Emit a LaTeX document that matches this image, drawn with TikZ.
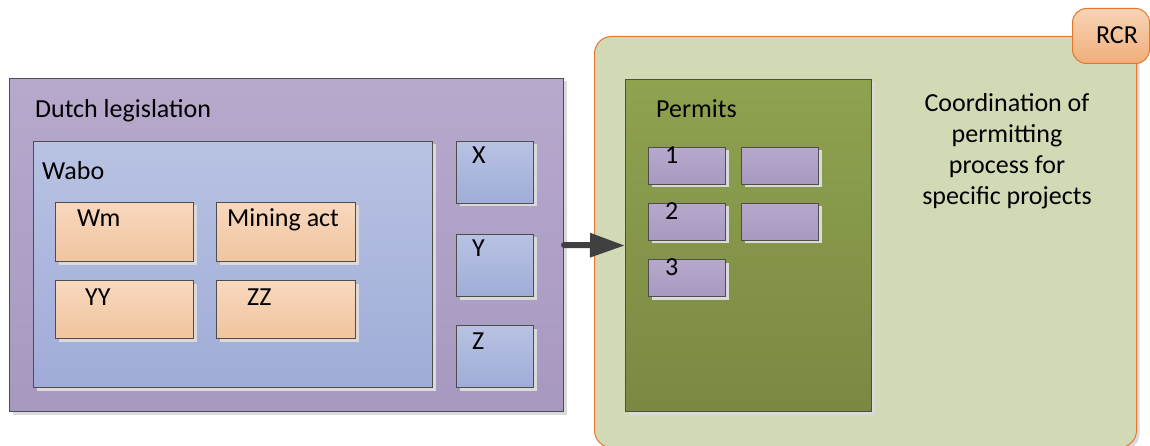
\documentclass[tikz,border=0pt]{standalone}
\usepackage{fontspec}
\setmainfont{Carlito}
\usetikzlibrary{arrows.meta,shadows}
\definecolor{edgegray}{RGB}{77,77,77}
\definecolor{purpletop}{RGB}{183,169,204}
\definecolor{purplebot}{RGB}{167,152,192}
\definecolor{bluetop}{RGB}{184,194,226}
\definecolor{bluebot}{RGB}{160,172,216}
\definecolor{peachtop}{RGB}{248,216,190}
\definecolor{peachbot}{RGB}{240,196,158}
\definecolor{greenfill}{RGB}{210,218,181}
\definecolor{greenedge}{RGB}{228,120,42}
\definecolor{olivetop}{RGB}{143,162,80}
\definecolor{olivebot}{RGB}{122,137,66}
\definecolor{tabtop}{RGB}{248,212,182}
\definecolor{tabbot}{RGB}{240,174,122}
\definecolor{arrowgray}{RGB}{64,64,64}
\definecolor{shadowgray}{RGB}{218,218,218}
\tikzset{
  box/.style={draw=edgegray, line width=1pt, inner sep=0pt, anchor=north west,
    drop shadow={shadow xshift=3pt, shadow yshift=-3pt, fill=shadowgray, opacity=1}},
  purplebox/.style={box, top color=purpletop, bottom color=purplebot},
  bluebox/.style={box, top color=bluetop, bottom color=bluebot},
  peachbox/.style={box, top color=peachtop, bottom color=peachbot},
  olivebox/.style={box, top color=olivetop, bottom color=olivebot},
  greenbox/.style={draw=greenedge, line width=1pt, fill=greenfill, inner sep=0pt,
    anchor=north west, rounded corners=17pt,
    drop shadow={shadow xshift=3pt, shadow yshift=-3pt, fill=shadowgray, opacity=1}},
  tabbox/.style={draw=greenedge, line width=1pt, top color=tabtop, bottom color=tabbot,
    inner sep=0pt, anchor=north west, rounded corners=14pt},
  txt/.style={anchor=base west, inner sep=0pt, text=black},
  bigarrow/.style={draw=arrowgray, line width=6pt, line cap=round,
    -{Triangle[length=35pt, width=23pt]}},
}
\begin{document}
\begin{tikzpicture}[x=1pt, y=-1pt, font=\fontsize{26}{31}\selectfont]
\clip (0,0) rectangle (1150,446);
% left part
\node[purplebox, minimum width=554pt, minimum height=333pt] (dutch) at (9,78) {};
\node[txt] (dutchT) at (35,118) {Dutch legislation};
\node[bluebox, minimum width=399pt, minimum height=246pt] (wabo) at (33,141) {};
\node[txt] (waboT) at (42,180) {Wabo};
\node[peachbox, minimum width=138pt, minimum height=59pt] (wm) at (55,202) {};
\node[txt] (wmT) at (77,226) {Wm};
\node[peachbox, minimum width=139pt, minimum height=59pt] (mining) at (216,202) {};
\node[txt] (miningT) at (227,226) {Mining act};
\node[peachbox, minimum width=138pt, minimum height=58pt] (yy) at (55,280) {};
\node[txt] (yyT) at (85,305) {YY};
\node[peachbox, minimum width=139pt, minimum height=58pt] (zz) at (216,280) {};
\node[txt] (zzT) at (247,305) {ZZ};
\node[bluebox, minimum width=77pt, minimum height=62pt] (xb) at (456,141) {};
\node[txt] (xT) at (472,164) {X};
\node[bluebox, minimum width=77pt, minimum height=62pt] (yb) at (456,234) {};
\node[txt] (yT) at (472,257) {Y};
\node[bluebox, minimum width=77pt, minimum height=62pt] (zb) at (456,325) {};
\node[txt] (zT) at (472,349) {Z};
% right part
\node[greenbox, minimum width=542pt, minimum height=411pt] (rcr) at (594,36) {};
\node[tabbox, minimum width=77pt, minimum height=55pt] (tab) at (1072,8) {};
\node[inner sep=0pt, anchor=base] (tabT) at (1117,44) {RCR};
\node[olivebox, minimum width=246pt, minimum height=332pt] (permits) at (625,79) {};
\node[txt] (permitsT) at (656,118) {Permits};
\node[purplebox, minimum width=77pt, minimum height=37pt] (p1) at (648,147) {};
\node[txt] (p1T) at (665,164) {1};
\node[purplebox, minimum width=77pt, minimum height=37pt] (p1b) at (741,147) {};
\node[purplebox, minimum width=77pt, minimum height=37pt] (p2) at (648,203) {};
\node[txt] (p2T) at (665,220) {2};
\node[purplebox, minimum width=77pt, minimum height=37pt] (p2b) at (741,203) {};
\node[purplebox, minimum width=77pt, minimum height=37pt] (p3) at (648,259) {};
\node[txt] (p3T) at (665,276) {3};
\node[inner sep=0pt, align=center, anchor=base] (coord) at (1007,205)
  {Coordination of\\permitting\\process for\\specific projects};
% connector
\draw[bigarrow] (dutch.east) -- (permits.west);
\end{tikzpicture}
\end{document}
